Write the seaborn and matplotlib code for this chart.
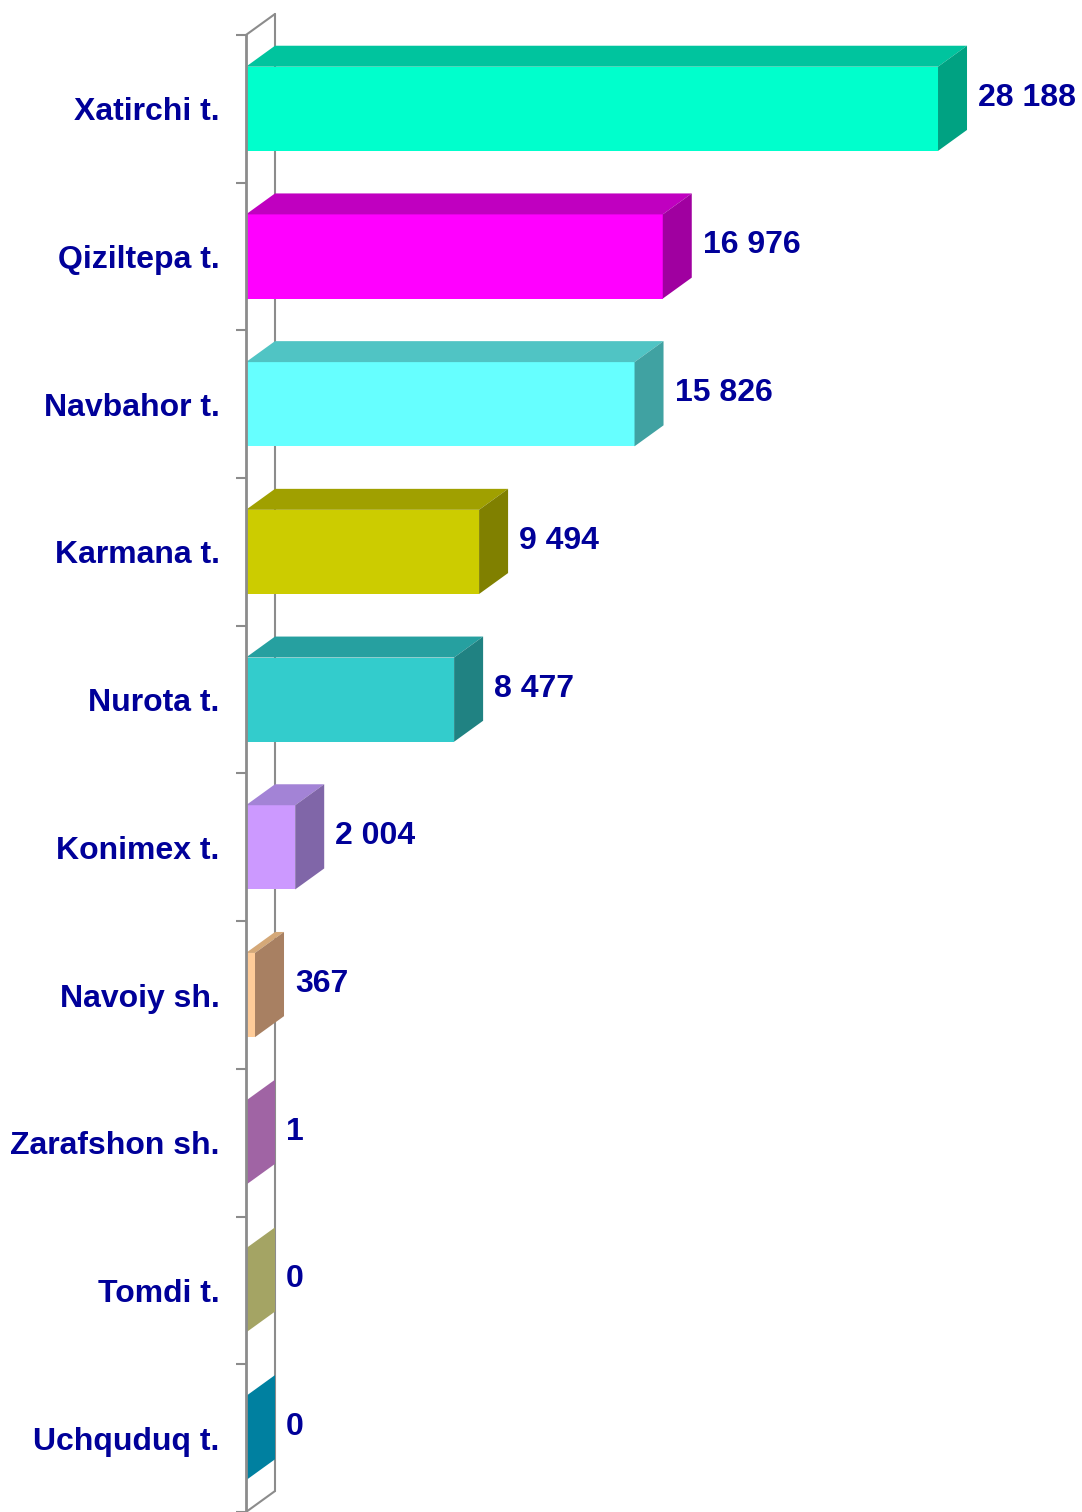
import numpy as np
import matplotlib
matplotlib.use("Agg")
import matplotlib.pyplot as plt
from matplotlib.patches import Polygon
import seaborn as sns

# data
districts = ['Xatirchi t.', 'Qiziltepa t.', 'Navbahor t.', 'Karmana t.', 'Nurota t.',
             'Konimex t.', 'Navoiy sh.', 'Zarafshon sh.', 'Tomdi t.', 'Uchquduq t.']
counts = [28188, 16976, 15826, 9494, 8477, 2004, 367, 1, 0, 0]

# face colours of the 3d boxes
front_colors = ['#00FFCC', '#FF00FF', '#66FFFF', '#CCCC00', '#33CCCC',
                '#CC99FF', '#FFCC99', '#CC80CC', '#CCCC80', '#00A0C8']
top_colors = ['#00C49E', '#C000C0', '#50C4C4', '#A0A000', '#26A0A0',
              '#A383D6', '#D4A878', '#B070B4', '#B4B470', '#008CB0']
side_colors = ['#00A282', '#A000A0', '#40A2A2', '#808000', '#208282',
               '#8066A8', '#A88062', '#A064A4', '#A4A464', '#0080A0']

txt_color = '#000099'
axis_gray = '#8C8C8C'
font_size_ = 23

sns.set_style('white')
plt.rcParams['font.family'] = ['Liberation Sans', 'DejaVu Sans']
plt.rcParams['font.weight'] = 'bold'

W, H = 1082, 1512
fig = plt.figure(figsize=(W / 100, H / 100), dpi=100)
ax = fig.add_axes([246 / W, 0, 836 / W, 1])

sns.barplot(x=counts, y=districts, hue=districts, palette=front_colors, orient='h',
            width=0.57, saturation=1, legend=False, ax=ax, zorder=3, linewidth=0)

xmax = 34053
ax.set_xlim(0, xmax)
ax.set_ylim(9.48, -0.7365)

# depth of the boxes (in data units)
ddx = 29 / (836 / xmax)
ddy = 21 / 148

for s in ['top', 'right', 'bottom']:
    ax.spines[s].set_visible(False)
ax.spines['left'].set_color(axis_gray)
ax.spines['left'].set_linewidth(2)
ax.spines['left'].set_bounds(-0.5, 9.5)
ax.spines['left'].set_zorder(3.5)
ax.set_xticks([])
ax.set_xlabel('')
ax.set_ylabel('')
ax.set_yticks(np.arange(-0.5, 10, 1), minor=True)
ax.tick_params(axis='y', which='major', length=0, pad=19, labelsize=font_size_,
               labelcolor=txt_color)
ax.tick_params(axis='y', which='minor', length=7, width=1.5, color=axis_gray,
               direction='out', left=True)
for lab in ax.get_yticklabels():
    lab.set_fontweight('bold')

# back wall
wall = dict(color=axis_gray, lw=1.5, zorder=1, clip_on=False)
ax.plot([ddx, ddx], [-0.5 - ddy, 9.5 - ddy], **wall)
ax.plot([0, ddx], [-0.5, -0.5 - ddy], **wall)
ax.plot([0, ddx], [9.5, 9.5 - ddy], **wall)

# 3d faces + value labels
for p in ax.patches:
    i = int(round(p.get_y() + p.get_height() / 2))
    x0, x1 = p.get_x(), p.get_x() + p.get_width()
    yt, yb = p.get_y(), p.get_y() + p.get_height()
    top = Polygon([(x0, yt), (x1, yt), (x1 + ddx, yt - ddy), (x0 + ddx, yt - ddy)],
                  closed=True, fc=top_colors[i], ec='none', zorder=3)
    side = Polygon([(x1, yt), (x1 + ddx, yt - ddy), (x1 + ddx, yb - ddy), (x1, yb)],
                   closed=True, fc=side_colors[i], ec='none', zorder=3)
    ax.add_patch(top)
    ax.add_patch(side)
    ax.annotate(f"{counts[i]:,}".replace(",", " "), xy=(x1 + ddx, (yt + yb) / 2),
                xytext=(8, 8), textcoords='offset points', ha='left', va='center',
                fontsize=font_size_, fontweight='bold', color=txt_color, zorder=4)

fig.savefig('out.png', dpi=100)
